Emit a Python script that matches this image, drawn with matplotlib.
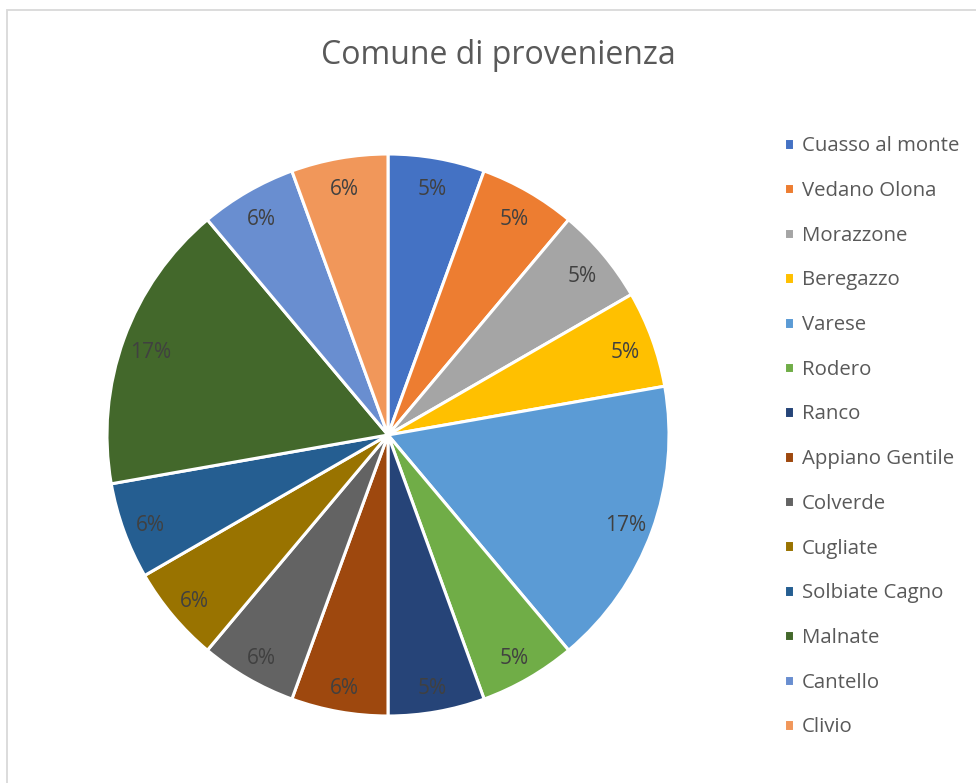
import matplotlib
matplotlib.use("Agg")
import matplotlib.pyplot as plt
from matplotlib.patches import Rectangle

plt.rcParams['font.family'] = ['Open Sans', 'DejaVu Sans']

comuni = ["Cuasso al monte", "Vedano Olona", "Morazzone", "Beregazzo", "Varese",
          "Rodero", "Ranco", "Appiano Gentile", "Colverde", "Cugliate",
          "Solbiate Cagno", "Malnate", "Cantello", "Clivio"]
persone = [1, 1, 1, 1, 3, 1, 1, 1, 1, 1, 1, 3, 1, 1]
# percentuali come mostrate nelle etichette
etichette = ["5%", "5%", "5%", "5%", "17%", "5%", "5%", "6%", "6%", "6%",
             "6%", "17%", "6%", "6%"]
colori = ["#4472C4", "#ED7D31", "#A5A5A5", "#FFC000", "#5B9BD5", "#70AD47",
          "#264478", "#9E480E", "#636363", "#997300", "#255E91", "#43682B",
          "#698ED0", "#F1975A"]

W, H = 976, 783
fig = plt.figure(figsize=(W/100, H/100), dpi=100)

# cornice grigia del grafico
fig.patches.append(Rectangle((7/W, -0.01), 1.0, (H-10)/H + 0.01, transform=fig.transFigure,
                             fill=False, edgecolor="#D9D9D9", linewidth=1.3))

cx, cy, r = 388, 435, 281
ax = fig.add_axes([(cx-r)/W, (H-cy-r)/H, 2*r/W, 2*r/H])

it = iter(etichette)
wedges, texts, autotexts = ax.pie(
    persone, colors=colori, startangle=90, counterclock=False,
    autopct=lambda p: next(it), pctdistance=0.9,
    wedgeprops=dict(edgecolor="white", linewidth=2.2),
    textprops=dict(color="#404040", fontsize=15))
for t in autotexts:
    x, y = t.get_position()
    t.set_position((x, y - 4/r))
ax.set_xlim(-1, 1)
ax.set_ylim(-1, 1)
ax.set_aspect("equal")

fig.text(498/W, 1 - 56/H, "Comune di provenienza", ha="center", va="center",
         fontsize=23, color="#595959")

fig.legend(wedges, comuni, loc="upper left", bbox_to_anchor=(776/W, 1 - 128/H),
           frameon=False, fontsize=14.7, labelcolor="#595959",
           handlelength=0.5, handleheight=0.5, handletextpad=0.35,
           labelspacing=1.21, borderaxespad=0)

fig.savefig("out.png", dpi=100)
